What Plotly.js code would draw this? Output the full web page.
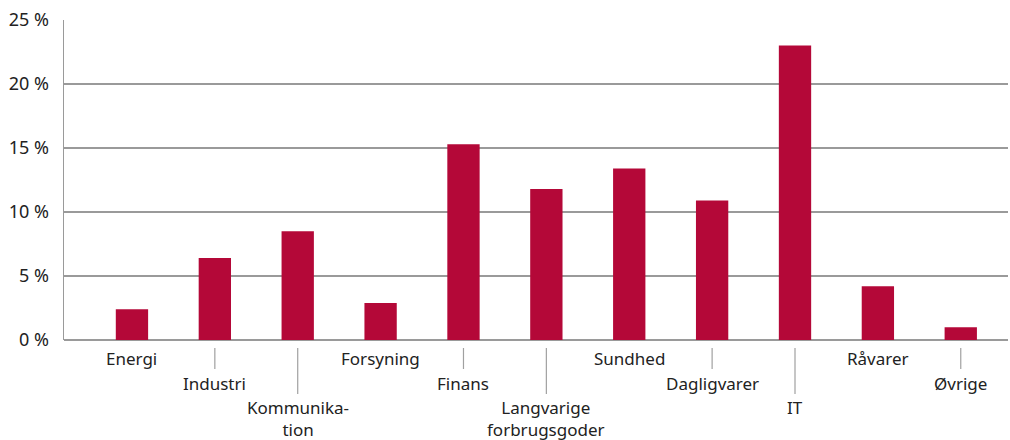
<!DOCTYPE html>
<html>
<head>
<meta charset="utf-8">
<script src="https://cdn.plot.ly/plotly-3.0.1.min.js"></script>
<style>html,body{margin:0;padding:0;background:#fff;}#chart{width:1010px;height:440px;}</style>
</head>
<body>
<div id="chart"></div>
<script>
const categories = ["Energi","Industri","Kommunika-<br>tion","Forsyning","Finans","Langvarige<br>forbrugsgoder","Sundhed","Dagligvarer","IT","Råvarer","Øvrige"];
const values = [2.4, 6.4, 8.5, 2.9, 15.3, 11.8, 13.4, 10.9, 23.0, 4.2, 1.0];
const labelRows = [0,1,2,0,1,2,0,1,2,0,1];
const yTicks = [0,5,10,15,20,25];
const yTickLabels = ["0 %","5 %","10 %","15 %","20 %","25 %"];

const plotH = 320;
const rowShift = [-5, -30, -54];
const lineEnd = [null, 29, 54];

const annotations = categories.map((c, i) => ({
  x: i, xref: 'x', y: 0, yref: 'paper', yanchor: 'top', xanchor: 'center',
  yshift: rowShift[labelRows[i]], text: c, showarrow: false,
  font: {family: 'Noto Sans, sans-serif', size: 17, color: '#222'}
}));
const shapes = [];
categories.forEach((c, i) => {
  const r = labelRows[i];
  if (lineEnd[r] !== null) {
    shapes.push({type: 'line', xref: 'x', yref: 'paper', x0: i, x1: i,
      y0: -8 / plotH, y1: -lineEnd[r] / plotH, line: {color: '#a0a0a0', width: 1.2}});
  }
});

const data = [{
  type: 'bar', x: categories.map((c, i) => i), y: values,
  marker: {color: '#b40838'}, width: 0.39, hoverinfo: 'skip'
}];

const layout = {
  width: 1010, height: 440,
  margin: {l: 64, r: 2, t: 20, b: 100},
  paper_bgcolor: '#fff', plot_bgcolor: '#fff',
  showlegend: false,
  xaxis: {range: [-0.82, 10.57], showticklabels: false, showgrid: false, zeroline: false,
    showline: false, ticks: '', fixedrange: true},
  yaxis: {range: [0, 25], tickvals: yTicks, ticktext: yTickLabels, showgrid: true,
    gridcolor: '#9a9a9a', gridwidth: 1.2, zeroline: true, zerolinecolor: '#9a9a9a', zerolinewidth: 1.5,
    showline: true, linecolor: '#9a9a9a', linewidth: 1.5, ticks: '', ticklabelstandoff: 10,
    tickfont: {family: 'Noto Sans, sans-serif', size: 18, color: '#222'}, fixedrange: true},
  annotations: annotations,
  shapes: shapes
};
Plotly.newPlot('chart', data, layout, {displayModeBar: false, staticPlot: true});
</script>
</body>
</html>
